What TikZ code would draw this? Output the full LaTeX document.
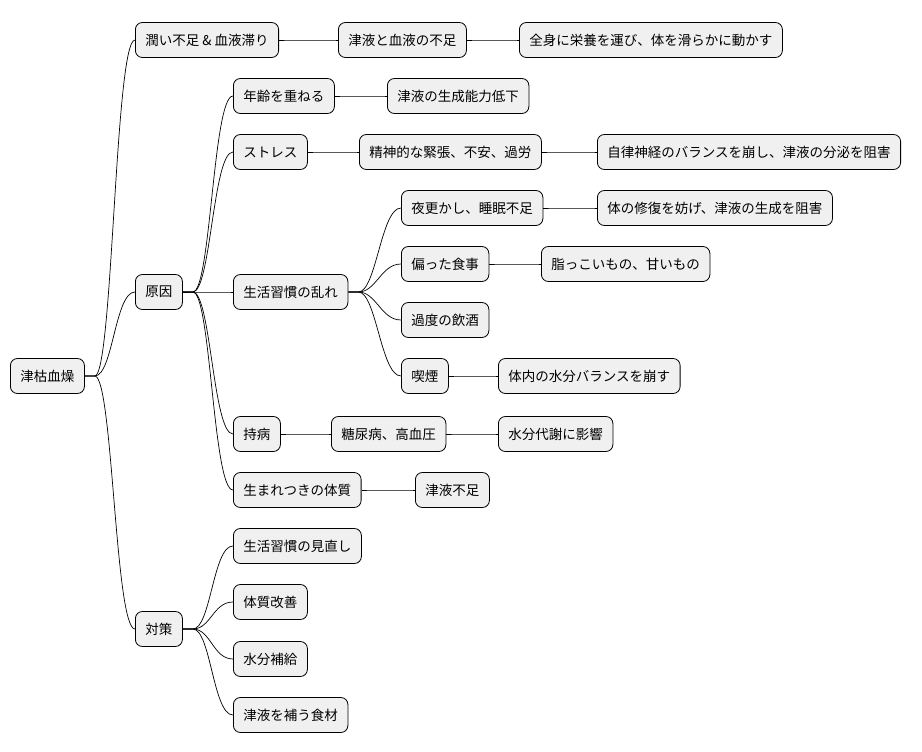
\documentclass[tikz,border=0pt]{standalone}
\usepackage{fontspec}
\setmainfont{Noto Sans CJK JP}
\begin{document}
\begin{tikzpicture}[x=1pt,y=-1pt,
  mm/.style={draw=black,fill=black!6,rounded corners=7pt,minimum height=35pt,inner xsep=10pt,anchor=west,font=\fontsize{13.5}{16}\selectfont,line width=0.8pt},
  lk/.style={line width=0.7pt}]
\useasboundingbox (0,0) rectangle (922,752);
\node[mm] (r) at (10,376) {津枯血燥};
\node[mm] (a) at (135,40) {潤い不足 \& 血液滞り};
\node[mm] (b) at (135,292) {原因};
\node[mm] (c) at (135,629) {対策};
\node[mm] (a1) at (338,40) {津液と血液の不足};
\node[mm] (a2) at (519,40) {全身に栄養を運び、体を滑らかに動かす};
\node[mm] (b1) at (233,96) {年齢を重ねる};
\node[mm] (b1a) at (387,96) {津液の生成能力低下};
\node[mm] (b2) at (233,152) {ストレス};
\node[mm] (b2a) at (359,152) {精神的な緊張、不安、過労};
\node[mm] (b2b) at (597,152) {自律神経のバランスを崩し、津液の分泌を阻害};
\node[mm] (b3) at (233,292) {生活習慣の乱れ};
\node[mm] (b31) at (401,208) {夜更かし、睡眠不足};
\node[mm] (b31a) at (597,208) {体の修復を妨げ、津液の生成を阻害};
\node[mm] (b32) at (401,264) {偏った食事};
\node[mm] (b32a) at (541,264) {脂っこいもの、甘いもの};
\node[mm] (b33) at (401,320) {過度の飲酒};
\node[mm] (b34) at (401,376) {喫煙};
\node[mm] (b34a) at (498,376) {体内の水分バランスを崩す};
\node[mm] (b4) at (233,434) {持病};
\node[mm] (b4a) at (331,434) {糖尿病、高血圧};
\node[mm] (b4b) at (498,434) {水分代謝に影響};
\node[mm] (b5) at (233,490) {生まれつきの体質};
\node[mm] (b5a) at (415,490) {津液不足};
\node[mm] (c1) at (233,546) {生活習慣の見直し};
\node[mm] (c2) at (233,602) {体質改善};
\node[mm] (c3) at (233,659) {水分補給};
\node[mm] (c4) at (233,715) {津液を補う食材};
\foreach \p/\c in {r/a,r/b,r/c,a/a1,a1/a2,b/b1,b1/b1a,b/b2,b2/b2a,b2a/b2b,b/b3,b3/b31,b31/b31a,b3/b32,b32/b32a,b3/b33,b3/b34,b34/b34a,b/b4,b4/b4a,b4a/b4b,b/b5,b5/b5a,c/c1,c/c2,c/c3,c/c4}
  \draw[lk] (\p.east) -- ++(10,0) .. controls +(18,0) and ([xshift=-20]\c.west) .. (\c.west);
\end{tikzpicture}
\end{document}
